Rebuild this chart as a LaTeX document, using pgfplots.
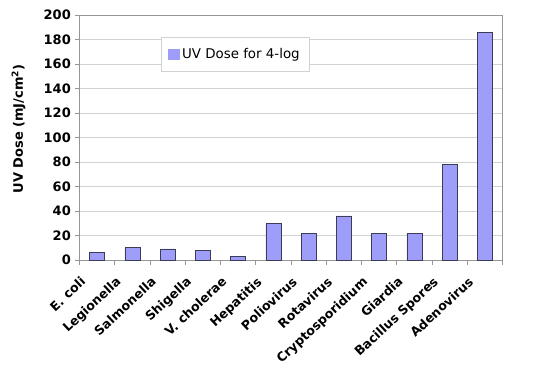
\documentclass[border=0pt]{standalone}
\usepackage{pgfplots}
\pgfplotsset{compat=1.18}
\usepackage{fontspec}
\setmainfont{DejaVu Sans}
\definecolor{barfill}{RGB}{158,158,250}
\definecolor{baredge}{RGB}{60,60,85}
\definecolor{axgray}{RGB}{150,150,150}
\definecolor{gridgray}{RGB}{210,210,210}
\begin{document}
\begin{tikzpicture}
\useasboundingbox (-79.5pt,-108pt) rectangle (463.5pt,260pt);
\begin{axis}[
  at={(0pt,0pt)}, anchor=south west,
  scale only axis, width=423pt, height=245pt,
  xmin=-0.5, xmax=11.5, ymin=0, ymax=200,
  ytick={0,20,...,200},
  xtick={0,...,11},
  xticklabels={E. coli, Legionella, Salmonella, Shigella, V. cholerae, Hepatitis, Poliovirus, Rotavirus, Cryptosporidium, Giardia, Bacillus Spores, Adenovirus},
  minor xtick={-0.5,0.5,...,11.5},
  major x tick style={draw=none},
  tick align=outside,
  major tick length=5pt, minor tick length=5pt,
  xtick pos=bottom, ytick pos=left,
  tick style={axgray, line width=0.6pt},
  axis line style={axgray, line width=0.6pt},
  ymajorgrids, grid style={gridgray, line width=0.6pt},
  /pgf/number format/assume math mode=true,
  yticklabel style={font=\fontsize{13}{15}\selectfont\bfseries, inner sep=3.5pt},
  xticklabel style={font=\fontsize{12.6}{15}\selectfont\bfseries, rotate=43, anchor=north east, inner sep=1pt, xshift=-19pt, yshift=5pt},
  ylabel={UV Dose (mJ/cm\textsuperscript{2})},
  every axis y label/.style={at={(axis description cs:0,0.535)}, xshift=-61pt, rotate=90, anchor=center, font=\fontsize{13}{15}\selectfont\bfseries},
  legend style={at={(axis description cs:0.193,0.909)}, anchor=north west, draw=gridgray, font=\fontsize{13.4}{15}\selectfont, inner xsep=7pt, inner ysep=9pt},
  legend cell align=left,
]
\addplot[ybar, bar width=15pt, fill=barfill, draw=baredge, line width=0.7pt,
  legend image code/.code={\fill[barfill] (0pt,-5pt) rectangle (11pt,5pt);}]
  coordinates {(0,6) (1,10) (2,9) (3,8) (4,3) (5,30) (6,22) (7,36) (8,22) (9,22) (10,78) (11,186)};
\addlegendentry{UV Dose for 4-log}
\end{axis}
\end{tikzpicture}
\end{document}
